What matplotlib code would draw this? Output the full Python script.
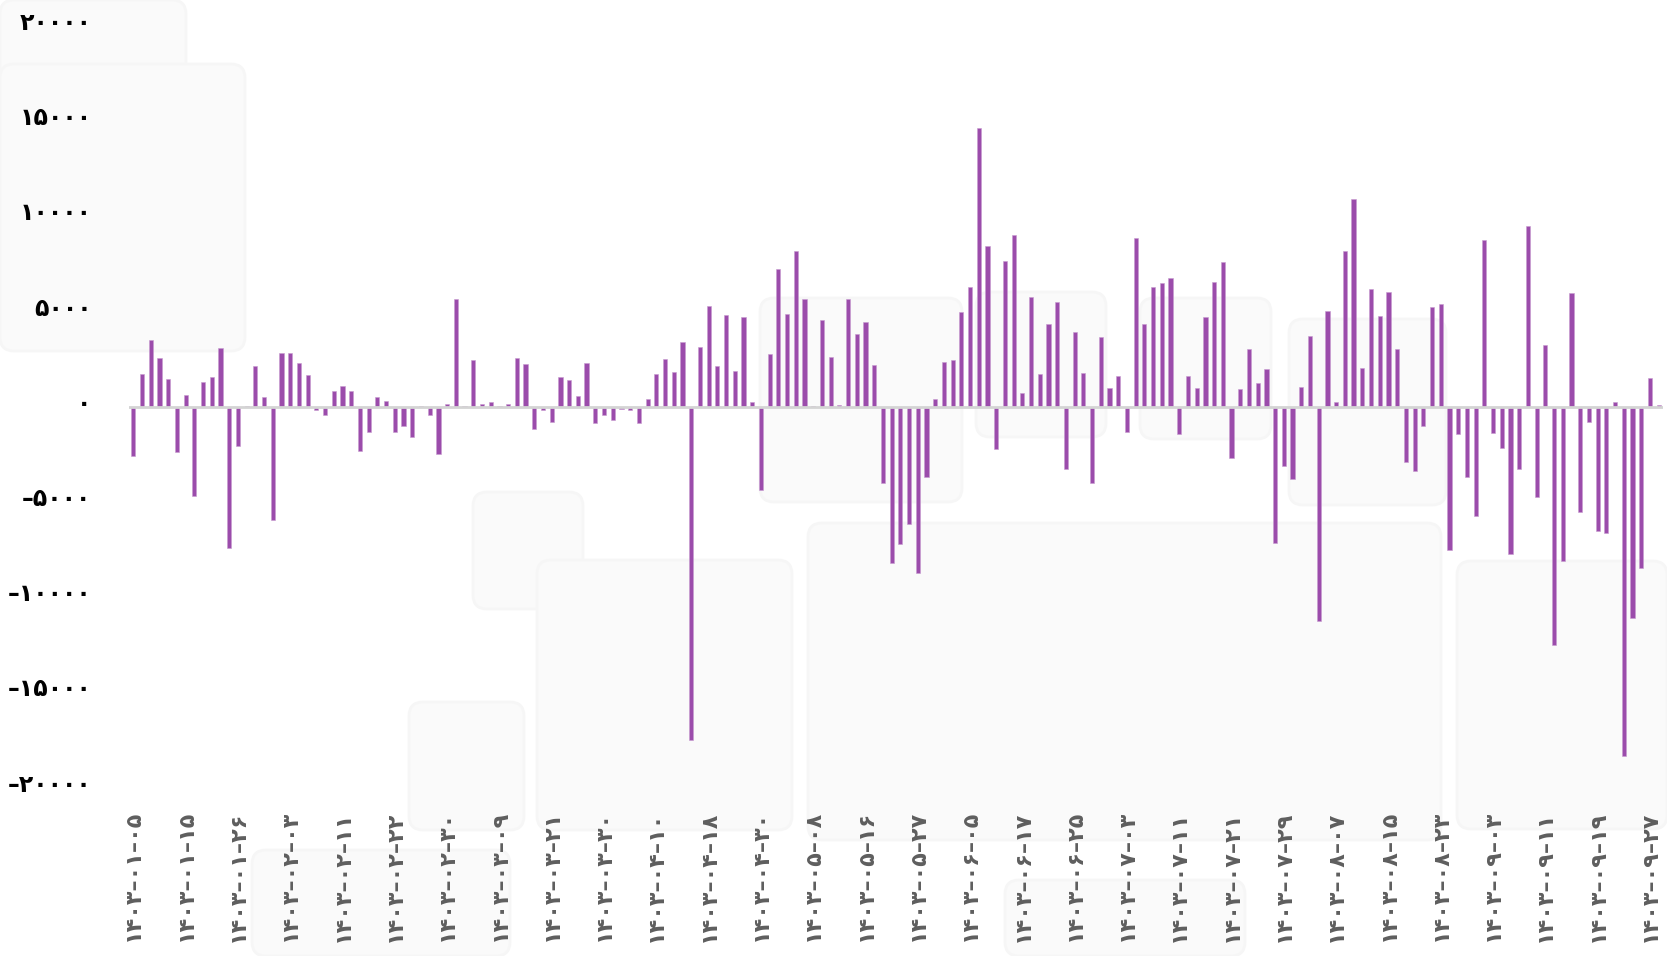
import matplotlib
matplotlib.use("Agg")
import matplotlib.pyplot as plt
import matplotlib.patches as mpatches
import matplotlib.transforms as mtrans
import numpy as np

# daily net values
values = [
    -2555, 1733, 3535, 2573, 1488, -2328, 648, -4660, 1313, 1610,
    3133, -7370, -2030, 70, 2170, 543, -5920, 2870, 2870, 2310,
    1715, -140, -400, 858, 1120, 858, -2290, -1280, 560, 315,
    -1280, -980, -1540, 50, -420, -2450, 175, 5690, 50, 2470,
    190, 260, 50, 190, 2608, 2258, -1138, -158, -788, 1575,
    1418, 613, 2328, -805, -403, -665, -105, -158, -805, 438,
    1733, 2555, 1838, 3413, -17500, 3150, 5320, 2153, 4865, 1925,
    4725, 263, -4340, 2783, 7280, 4883, 8190, 5670, 50, 4585,
    2643, 120, 5670, 3850, 4498, 2205, -3990, -8158, -7193, -6143,
    -8715, -3643, 420, 2363, 2485, 5005, 6300, 14648, 8453, -2205,
    7683, 9048, 770, 5793, 1733, 4358, 5513, -3255, 3938, 1785,
    -3955, 3693, 1033, 1663, -1278, 8873, 4358, 6335, 6528, 6773,
    -1418, 1628, 998, 4760, 6580, 7630, -2643, 945, 3045, 1260,
    2013, -7105, -3080, -3780, 1085, 3763, -11250, 5040, 298, 8225,
    10955, 2065, 6230, 4778, 6038, 3045, -2853, -3343, -963, 5285,
    5443, -7490, -1418, -3640, -5705, 8785, -1348, -2118, -7700, -3238,
    9538, -4690, 3273, -12513, -8050, 5985, -5513, -753, -6475, -6598,
    280, -18340, -11060, -8435, 1523, 140,
]

# one label every 6 trading days
date_labels = [
    "۱۴۰۳-۰۱-۰۵", "۱۴۰۳-۰۱-۱۵", "۱۴۰۳-۰۱-۲۶", "۱۴۰۳-۰۲-۰۳", "۱۴۰۳-۰۲-۱۱",
    "۱۴۰۳-۰۲-۲۲", "۱۴۰۳-۰۲-۳۰", "۱۴۰۳-۰۳-۰۹", "۱۴۰۳-۰۳-۲۱", "۱۴۰۳-۰۳-۳۰",
    "۱۴۰۳-۰۴-۱۰", "۱۴۰۳-۰۴-۱۸", "۱۴۰۳-۰۴-۳۰", "۱۴۰۳-۰۵-۰۸", "۱۴۰۳-۰۵-۱۶",
    "۱۴۰۳-۰۵-۲۷", "۱۴۰۳-۰۶-۰۵", "۱۴۰۳-۰۶-۱۷", "۱۴۰۳-۰۶-۲۵", "۱۴۰۳-۰۷-۰۳",
    "۱۴۰۳-۰۷-۱۱", "۱۴۰۳-۰۷-۲۱", "۱۴۰۳-۰۷-۲۹", "۱۴۰۳-۰۸-۰۷", "۱۴۰۳-۰۸-۱۵",
    "۱۴۰۳-۰۸-۲۳", "۱۴۰۳-۰۹-۰۳", "۱۴۰۳-۰۹-۱۱", "۱۴۰۳-۰۹-۱۹", "۱۴۰۳-۰۹-۲۷",
]
label_step = 6
y_ticks = [20000, 15000, 10000, 5000, 0, -5000, -10000, -15000, -20000]

BAR_COLOR = "#9b4cab"
FA_DIGITS = str.maketrans("0123456789-", "۰۱۲۳۴۵۶۷۸۹–")


def to_fa(v):
    return str(int(v)).translate(FA_DIGITS)


W, H = 1667, 956
fig = plt.figure(figsize=(W / 100, H / 100), dpi=100)
fig.patch.set_facecolor("white")

# faint rounded panels in the background
bg = fig.add_axes([0, 0, 1, 1], zorder=0)
bg.set_xlim(0, W)
bg.set_ylim(H, 0)
bg.axis("off")
panels = [
    (0, 0, 186, 154), (0, 64, 245, 287), (473, 492, 110, 117),
    (409, 702, 115, 128), (537, 560, 255, 270), (808, 523, 633, 317),
    (760, 298, 202, 204), (976, 292, 130, 145), (1140, 298, 131, 141),
    (1289, 319, 157, 186), (1457, 561, 210, 268), (1005, 880, 240, 76),
    (252, 850, 258, 106),
]
for (x, y, w, h) in panels:
    bg.add_patch(mpatches.FancyBboxPatch(
        (x, y), w, h, boxstyle="round,pad=0,rounding_size=14",
        facecolor="#fafafa", edgecolor="#f6f6f6", lw=2))

ax = fig.add_axes([129 / W, 1 - 788 / H, 1534 / W, 761.5 / H], zorder=1)
ax.patch.set_alpha(0)

x = np.arange(len(values))
ax.bar(x, values, width=0.48, color=BAR_COLOR, edgecolor="#c79bd0",
       linewidth=0.4, zorder=2)
ax.axhline(0, color="#d4d4d4", lw=2, zorder=3)

ax.set_xlim(-0.5, len(values) - 0.5)
ax.set_ylim(-20000, 20000)
ax.set_yticks(y_ticks)
ax.set_yticklabels([to_fa(v) for v in y_ticks], fontsize=17,
                   fontweight="bold", color="black", family="DejaVu Sans")
ax.set_xticks(x[::label_step])
ax.set_xticklabels([d.replace("-", "–") for d in date_labels], rotation=90,
                   fontsize=16, fontweight="bold", color="#5e5e5e",
                   family="DejaVu Sans", va="top", ha="center")
ax.tick_params(axis="y", length=0, pad=27)
ax.tick_params(axis="x", length=0, pad=16)
for s in ax.spines.values():
    s.set_visible(False)

# the reference sets its value labels a little above the grid values
lift = mtrans.ScaledTranslation(0, 6 / 100, fig.dpi_scale_trans)
for lab in ax.get_yticklabels():
    lab.set_transform(lab.get_transform() + lift)

fig.savefig("out.png", dpi=100, facecolor="white")
